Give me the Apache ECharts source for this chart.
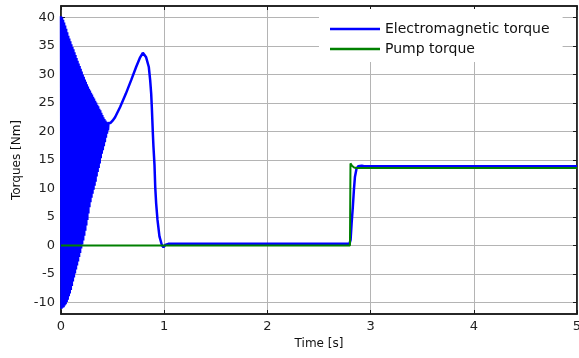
<!DOCTYPE html>
<html>
<head>
<meta charset="utf-8">
<script src="https://cdn.jsdelivr.net/npm/echarts@6/dist/echarts.min.js"></script>
<style>
  html, body { margin: 0; padding: 0; background: #fff; }
  #chart { width: 579px; height: 358px; }
</style>
</head>
<body>
<div id="chart"></div>
<script>
// Electromagnetic torque, start-up transient: alternating crest / trough of the oscillation.
const emStartTime = [
  0.000, 0.005, 0.010, 0.015, 0.020, 0.025, 0.030, 0.035, 0.040, 0.045,
  0.050, 0.055, 0.060, 0.065, 0.070, 0.075, 0.080, 0.085, 0.090, 0.095,
  0.100, 0.105, 0.110, 0.115, 0.120, 0.125, 0.130, 0.135, 0.140, 0.145,
  0.150, 0.155, 0.160, 0.165, 0.170, 0.175, 0.180, 0.185, 0.190, 0.195,
  0.200, 0.205, 0.210, 0.215, 0.220, 0.225, 0.230, 0.235, 0.240, 0.245,
  0.250, 0.255, 0.260, 0.265, 0.270, 0.275, 0.280, 0.285, 0.290, 0.295,
  0.300, 0.305, 0.310, 0.315, 0.320, 0.325, 0.330, 0.335, 0.340, 0.345,
  0.350, 0.355, 0.360, 0.365, 0.370, 0.375, 0.380, 0.385, 0.390, 0.395,
  0.400, 0.405, 0.410, 0.415, 0.420, 0.425, 0.430, 0.435, 0.440, 0.445,
  0.450, 0.455
];
const emStartTorque = [
  40.2, -11.1, 40.0, -10.9, 39.6, -10.8, 39.1, -10.5, 38.6, -10.3,
  38.0, -9.9, 37.4, -9.5, 36.8, -8.9, 36.3, -8.4, 35.8, -7.8,
  35.3, -7.1, 34.8, -6.3, 34.4, -5.6, 33.9, -4.9, 33.4, -4.2,
  32.9, -3.5, 32.4, -2.8, 31.9, -2.0, 31.5, -1.3, 31.0, -0.5,
  30.5, 0.2, 30.0, 0.9, 29.6, 1.7, 29.1, 2.6, 28.7, 3.5,
  28.3, 4.5, 27.9, 5.6, 27.5, 6.7, 27.2, 7.6, 26.8, 8.4,
  26.5, 9.1, 26.1, 9.8, 25.8, 10.5, 25.4, 11.2, 25.1, 12.1,
  24.7, 12.9, 24.4, 13.6, 24.0, 14.4, 23.7, 15.3, 23.3, 16.1,
  22.9, 16.7, 22.5, 17.4, 22.2, 18.1, 21.9, 18.9, 21.7, 19.6,
  21.6, 20.2
];

// Electromagnetic torque after the transient: run-up hump, no-load, then loaded.
const emRunTime = [
  0.46, 0.48, 0.50, 0.524, 0.573, 0.628, 0.68, 0.728, 0.767, 0.793, 0.81,
  0.825, 0.851, 0.864, 0.874, 0.88, 0.89, 0.896, 0.906, 0.913, 0.922,
  0.935, 0.954, 0.977, 0.993, 1.01, 1.04,
  2.795, 2.806, 2.816, 2.828, 2.838, 2.848, 2.864, 2.88, 2.896, 2.915, 2.935, 5.0
];
const emRunTorque = [
  21.5, 21.5, 21.9, 22.5, 24.3, 26.6, 29.0, 31.3, 33.0, 33.8, 33.6,
  33.0, 31.3, 29.0, 26.6, 24.3, 19.7, 17.3, 14.1, 10.3, 7.4,
  4.5, 1.6, 0.1, -0.3, 0.1, 0.3,
  0.3, 1.0, 3.9, 6.8, 9.7, 12.0, 13.5, 13.9, 14.2, 14.0, 13.9, 13.9
];

// Pump (load) torque: zero until the load is applied, then a constant level.
const pumpTime   = [0, 2.8, 2.805, 2.82, 2.84, 2.86, 5.0];
const pumpTorque = [0, 0, 14.4, 14.0, 13.7, 13.6, 13.6];

const timeTicks   = [0, 1, 2, 3, 4, 5];
const torqueTicks = [-10, -5, 0, 5, 10, 15, 20, 25, 30, 35, 40];

const seriesNames = ['Electromagnetic torque', 'Pump torque'];

const pairs = (xs, ys) => xs.map((x, i) => [x, ys[i]]);

const FONT = 'DejaVu Sans';
const AXIS_COLOR = '#1a1a1a';
const GRID_COLOR = '#b4b4b4';
const EM_COLOR = '#0000ff';
const PUMP_COLOR = '#008000';

const chart = echarts.init(document.getElementById('chart'), null, { renderer: 'canvas' });

const xCommon = {
  type: 'value',
  min: timeTicks[0],
  max: timeTicks[timeTicks.length - 1],
  interval: 1,
  axisLine: { show: true, onZero: false, lineStyle: { color: AXIS_COLOR, width: 1.5 } },
  axisTick: { show: true, inside: true, length: 4, lineStyle: { color: AXIS_COLOR, width: 1 } }
};
const yCommon = {
  type: 'value',
  min: -12,
  max: 42,
  axisLine: { show: true, onZero: false, lineStyle: { color: AXIS_COLOR, width: 1.5 } },
  axisTick: { show: true, inside: true, length: 4, customValues: torqueTicks,
              lineStyle: { color: AXIS_COLOR, width: 1 } }
};

chart.setOption({
  animation: false,
  backgroundColor: '#fff',
  textStyle: { fontFamily: FONT },
  grid: {
    left: 61, right: 2, top: 6, bottom: 44,
    outerBoundsMode: 'none',
    show: true, borderColor: AXIS_COLOR, borderWidth: 1.5, backgroundColor: 'transparent'
  },
  legend: {
    orient: 'vertical',
    left: 319,
    top: 9,
    padding: [10, 13, 3, 11],
    backgroundColor: '#fff',
    borderWidth: 0,
    icon: 'path://M0,0 L50,0 L50,2.5 L0,2.5 Z',
    itemWidth: 50,
    itemHeight: 2.5,
    itemGap: 0,
    data: seriesNames,
    textStyle: { fontFamily: FONT, fontSize: 14, lineHeight: 20, color: '#111' }
  },
  xAxis: [
    Object.assign({}, xCommon, {
      position: 'bottom',
      name: 'Time [s]',
      nameLocation: 'middle',
      nameGap: 22,
      nameTextStyle: { fontFamily: FONT, fontSize: 12, color: '#111' },
      axisLabel: { show: true, margin: 6, fontFamily: FONT, fontSize: 13, color: '#222',
                   showMinLabel: true, showMaxLabel: true },
      splitLine: { show: true, lineStyle: { color: GRID_COLOR, width: 1 } }
    }),
    Object.assign({}, xCommon, {
      position: 'top',
      axisLabel: { show: false },
      splitLine: { show: false }
    })
  ],
  yAxis: [
    Object.assign({}, yCommon, {
      position: 'left',
      name: 'Torques [Nm]',
      nameLocation: 'middle',
      nameGap: 38,
      nameTextStyle: { fontFamily: FONT, fontSize: 12, color: '#111' },
      axisLabel: { show: true, margin: 6, customValues: torqueTicks,
                   fontFamily: FONT, fontSize: 13, color: '#222' },
      splitLine: { show: true, lineStyle: { color: GRID_COLOR, width: 1 } }
    }),
    Object.assign({}, yCommon, {
      position: 'right',
      axisLabel: { show: false },
      splitLine: { show: false }
    })
  ],
  series: [
    {
      name: seriesNames[0],
      type: 'line',
      symbol: 'none',
      data: pairs(emStartTime.concat(emRunTime), emStartTorque.concat(emRunTorque)),
      lineStyle: { color: EM_COLOR, width: 2.5, join: 'bevel' },
      itemStyle: { color: EM_COLOR },
      z: 2
    },
    {
      name: seriesNames[1],
      type: 'line',
      symbol: 'none',
      data: pairs(pumpTime, pumpTorque),
      lineStyle: { color: PUMP_COLOR, width: 2 },
      itemStyle: { color: PUMP_COLOR },
      z: 3
    },
    {
      // empty series so the top / right frame axes get their ticks
      type: 'line',
      xAxisIndex: 1,
      yAxisIndex: 1,
      symbol: 'none',
      silent: true,
      data: []
    }
  ]
});
</script>
</body>
</html>
